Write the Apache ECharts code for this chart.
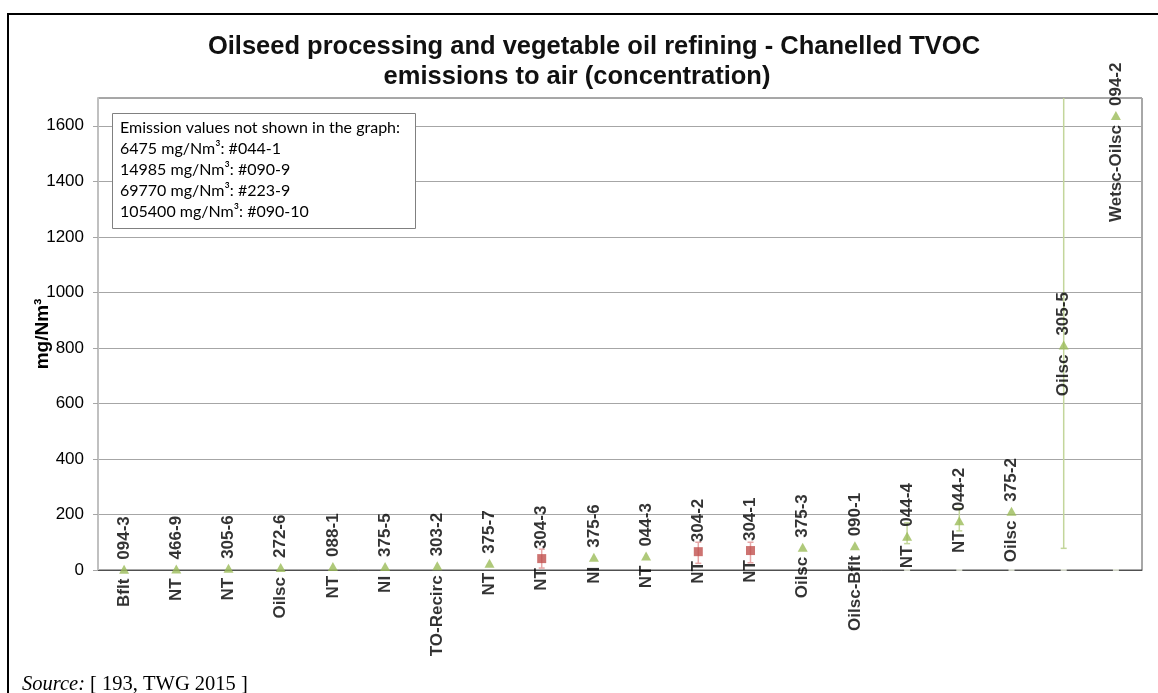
<!DOCTYPE html>
<html><head><meta charset="utf-8">
<script src="https://cdn.jsdelivr.net/npm/echarts@6/dist/echarts.min.js"></script>
<style>html,body{margin:0;padding:0;background:#fff}#c{width:1158px;height:693px}</style>
</head><body><div id="c"></div>
<script>
const ids = ['094-3','466-9','305-6','272-6','088-1','375-5','303-2','375-7','304-3','375-6','044-3','304-2','304-1','375-3','090-1','044-4','044-2','375-2','305-5','094-2'];
const names = ['Bflt','NT','NT','Oilsc','NT','NI','TO-Recirc','NT','NT','NI','NT','NT','NT','Oilsc','Oilsc-Bflt','NT','NT','Oilsc','Oilsc','Wetsc-Oilsc'];
const values = [3,4,6,9,13,13,15,24,41,46,50,66,70,82,87,122,177,212,810,1637];
const isRed = [0,0,0,0,0,0,0,0,1,0,0,1,1,0,0,0,0,0,0,0];
const errLow = [null,null,null,null,null,null,null,null,7,null,null,24,26,null,null,95,141,null,78,null];
const errHigh = [null,null,null,null,null,null,null,null,75,null,null,100,100,null,null,170,222,null,2000,null];
const baselineMarks = [null,null,null,null,null,null,null,null,null,null,null,null,null,null,null,0,0,0,0,0];
const yTickMax = 1700, yTickStep = 200;
const titleLine1 = 'Oilseed processing and vegetable oil refining - Chanelled TVOC';
const titleLine2 = 'emissions to air (concentration)';
const notShownLines = ['Emission values not shown in the graph:','6475 mg/Nm³: #044-1','14985 mg/Nm³: #090-9','69770 mg/Nm³: #223-9','105400 mg/Nm³: #090-10'];

const FONT = 'Liberation Sans, Arial, sans-serif';
const chart = echarts.init(document.getElementById('c'));
const labelBase = {show:true, rotate:90, verticalAlign:'middle', fontFamily:FONT, fontWeight:'bold', fontSize:17, color:'#000', distance:5};

chart.setOption({
  animation:false,
  backgroundColor:'#fff',
  title:[
    {text:titleLine1, left:589, top:29, textAlign:'center', textStyle:{fontFamily:FONT, fontSize:25.5, fontWeight:'bold', color:'#111'}},
    {text:titleLine2, left:572, top:59, textAlign:'center', textStyle:{fontFamily:FONT, fontSize:25.5, fontWeight:'bold', color:'#111'}}
  ],
  grid:{left:98, top:98, right:16, bottom:123, show:true, borderColor:'#505050', borderWidth:1, backgroundColor:'transparent'},
  xAxis:{type:'category', data:ids, boundaryGap:true,
    axisLine:{show:true, lineStyle:{color:'#505050', width:1}},
    axisTick:{show:false}, axisLabel:{show:false}, splitLine:{show:false}},
  yAxis:{type:'value', min:0, max:yTickMax, interval:yTickStep,
    name:'mg/Nm³', nameLocation:'middle', nameGap:46, nameMoveOverlap:false,
    nameTextStyle:{fontFamily:FONT, fontWeight:'bold', fontSize:19, color:'#000'},
    axisLine:{show:true, lineStyle:{color:'#c0c0c0', width:2}},
    axisTick:{show:true, length:5, lineStyle:{color:'#a6a6a6'}},
    axisLabel:{fontFamily:FONT, fontSize:17, color:'#000', margin:14, showMaxLabel:false,
      formatter:v => v > 1600 ? '' : String(v)},
    splitLine:{show:true, lineStyle:{color:'#a6a6a6', width:1}}},
  series:[
    {type:'custom', clip:true, z:1, silent:true,
      encode:{x:0, y:[1,2]},
      data: ids.map((id,i)=> errLow[i]==null ? null : [i, errLow[i], errHigh[i], isRed[i]]).filter(Boolean),
      renderItem(params, api){
        const lo = api.coord([api.value(0), api.value(1)]);
        const hi = api.coord([api.value(0), api.value(2)]);
        const color = api.value(3) ? '#e6a6a6' : '#c3d69b';
        const st = {stroke:color, lineWidth:1.5};
        return {type:'group', children:[
          {type:'line', shape:{x1:lo[0], y1:lo[1], x2:hi[0], y2:hi[1]}, style:st},
          {type:'line', shape:{x1:lo[0]-3, y1:lo[1], x2:lo[0]+3, y2:lo[1]}, style:st},
          {type:'line', shape:{x1:hi[0]-3, y1:hi[1], x2:hi[0]+3, y2:hi[1]}, style:st}
        ]};
      }},
    {type:'scatter', z:2, silent:true, symbol:'rect', symbolSize:[6,2],
      itemStyle:{color:'#eef3e2'},
      data: baselineMarks.map(v => v==null ? '-' : v)},
    {type:'scatter', z:3, symbol:'triangle', symbolSize:[10,9], itemStyle:{color:'#9bbb59'},
      data: values.map((v,i)=> isRed[i] ? '-' : v),
      label:Object.assign({}, labelBase, {position:'top', align:'left', formatter:p=>ids[p.dataIndex]})},
    {type:'scatter', z:3, symbol:'rect', symbolSize:9, itemStyle:{color:'#c0504d'},
      data: values.map((v,i)=> isRed[i] ? v : '-'),
      label:Object.assign({}, labelBase, {position:'top', align:'left', formatter:p=>ids[p.dataIndex]})},
    {type:'scatter', z:3, symbol:'rect', symbolSize:9, itemStyle:{color:'rgba(0,0,0,0)'}, silent:true,
      data: values.slice(),
      label:Object.assign({}, labelBase, {position:'bottom', align:'right', formatter:p=>names[p.dataIndex]})}
  ],
  graphic:[
    {type:'rect', z:-1, shape:{x:8, y:14, width:1200, height:800}, style:{fill:'none', stroke:'#000', lineWidth:2}},
    {type:'rect', z:10, shape:{x:112.5, y:113.5, width:303, height:115}, style:{fill:'#fff', stroke:'#808080', lineWidth:1}},
    {type:'text', z:11, x:120, y:117, style:{text:notShownLines.join('\n'), fontFamily:'Lato, Open Sans, sans-serif', fontSize:16, lineHeight:21, fill:'#000'}},
    {type:'text', z:11, x:22, y:674, style:{text:'{i|Source:} [ 193, TWG 2015 ]', fontFamily:'Liberation Serif, Times New Roman, serif', fontSize:20.5, fill:'#000',
      rich:{i:{fontStyle:'italic', fontFamily:'Liberation Serif, Times New Roman, serif', fontSize:20.5}}}}
  ]
});
</script></body></html>
